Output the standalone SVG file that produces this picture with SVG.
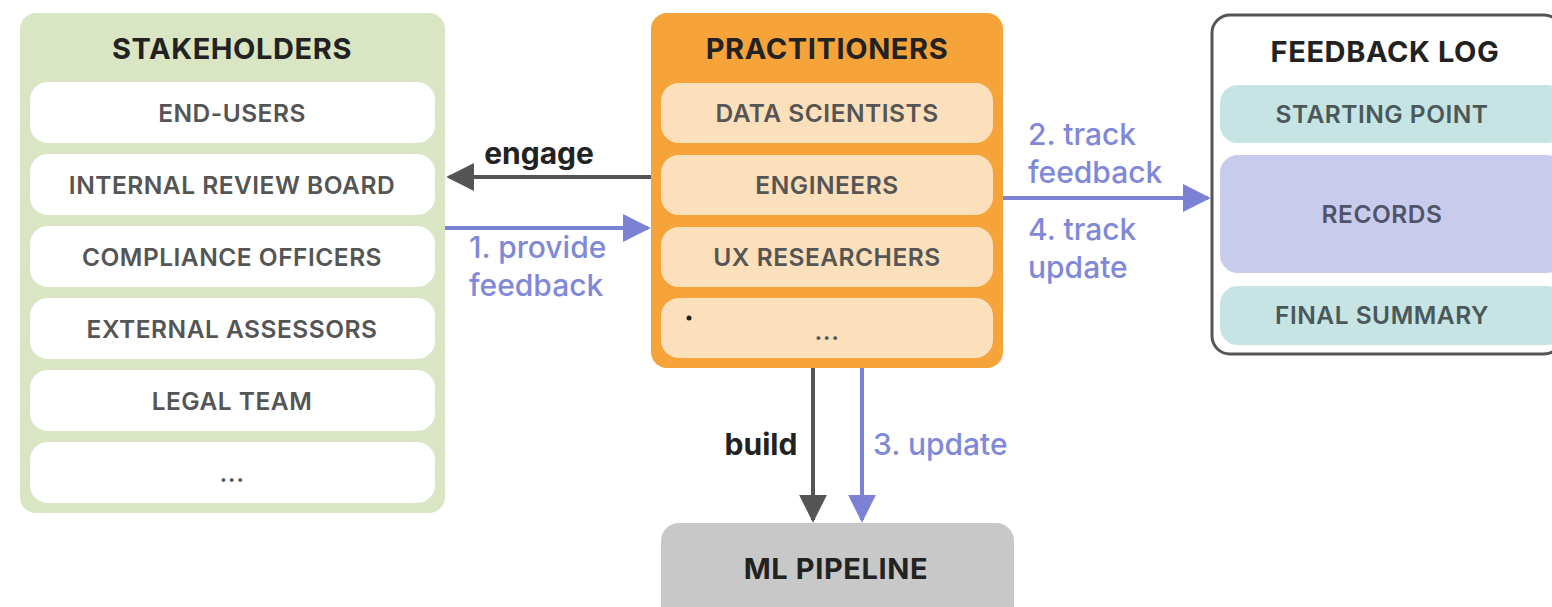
<svg xmlns="http://www.w3.org/2000/svg" width="1552" height="607" viewBox="0 0 1552 607">
<defs>
<style>
text{font-family:Inter,"Liberation Sans",sans-serif;text-anchor:middle}
.title{font-size:29px;font-weight:700;fill:#222;letter-spacing:0.6px}
.item{font-size:24.5px;font-weight:600;fill:#555;letter-spacing:0.5px}
.teal{fill:#4b5859}
.lav{fill:#50546a}
.lbl{font-size:30px;font-weight:700;fill:#222}
.plbl{font-size:30px;font-weight:500;fill:#8088d8;text-anchor:start}
.dark{stroke:#555;stroke-width:4;fill:none}
.purp{stroke:#7b82d6;stroke-width:4;fill:none}
</style>
<marker id="ad" viewBox="0 0 10 10" refX="9" refY="5" markerWidth="7" markerHeight="7" markerUnits="strokeWidth" orient="auto"><path d="M0,0 L10,5 L0,10 Z" fill="#555"/></marker>
<marker id="ap" viewBox="0 0 10 10" refX="9" refY="5" markerWidth="7" markerHeight="7" markerUnits="strokeWidth" orient="auto"><path d="M0,0 L10,5 L0,10 Z" fill="#7b82d6"/></marker>
</defs>
<rect width="1552" height="607" fill="#fff"/>

<g id="stakeholders">
<rect x="20" y="13" width="425" height="500" rx="16" fill="#d9e5c3"/>
<text class="title" x="232" y="59">STAKEHOLDERS</text>
<rect x="30" y="82" width="405" height="61" rx="18" fill="#fff"/>
<text class="item" x="232" y="122">END-USERS</text>
<rect x="30" y="154" width="405" height="61" rx="18" fill="#fff"/>
<text class="item" x="232" y="194">INTERNAL REVIEW BOARD</text>
<rect x="30" y="226" width="405" height="61" rx="18" fill="#fff"/>
<text class="item" x="232" y="266">COMPLIANCE OFFICERS</text>
<rect x="30" y="298" width="405" height="61" rx="18" fill="#fff"/>
<text class="item" x="232" y="338">EXTERNAL ASSESSORS</text>
<rect x="30" y="370" width="405" height="61" rx="18" fill="#fff"/>
<text class="item" x="232" y="410">LEGAL TEAM</text>
<rect x="30" y="442" width="405" height="61" rx="18" fill="#fff"/>
<text class="item" x="232" y="482">...</text>
</g>

<g id="practitioners">
<rect x="651" y="13" width="352" height="355" rx="16" fill="#f6a43a"/>
<text class="title" x="827" y="59">PRACTITIONERS</text>
<rect x="661" y="83" width="332" height="60" rx="18" fill="#fce0bb"/>
<text class="item" x="827" y="122">DATA SCIENTISTS</text>
<rect x="661" y="155" width="332" height="60" rx="18" fill="#fce0bb"/>
<text class="item" x="827" y="194">ENGINEERS</text>
<rect x="661" y="227" width="332" height="60" rx="18" fill="#fce0bb"/>
<text class="item" x="827" y="266">UX RESEARCHERS</text>
<rect x="661" y="298" width="332" height="60" rx="18" fill="#fce0bb"/>
<circle cx="689" cy="318" r="2.5" fill="#222"/>
<text class="item" x="827" y="340">...</text>
</g>

<g id="feedback-log">
<rect x="1212" y="15" width="350" height="339" rx="18" fill="#fff" stroke="#555" stroke-width="3"/>
<text class="title" x="1385" y="62">FEEDBACK LOG</text>
<rect x="1220" y="85" width="345" height="58" rx="18" fill="#c5e4e3"/>
<text class="item teal" x="1382" y="123">STARTING POINT</text>
<rect x="1220" y="155" width="345" height="118" rx="18" fill="#c9cbec"/>
<text class="item lav" x="1382" y="223">RECORDS</text>
<rect x="1220" y="286" width="345" height="59" rx="18" fill="#c5e4e3"/>
<text class="item teal" x="1382" y="324">FINAL SUMMARY</text>
</g>

<g id="ml-pipeline">
<rect x="661" y="523" width="353" height="110" rx="18" fill="#c8c8c8"/>
<text class="title" x="836" y="579">ML PIPELINE</text>
</g>

<g id="connectors">
<line class="dark" x1="651" y1="177" x2="449" y2="177" marker-end="url(#ad)"/>
<text class="lbl" x="539" y="164">engage</text>
<line class="purp" x1="445" y1="228" x2="648" y2="228" marker-end="url(#ap)"/>
<text class="plbl" x="469" y="258">1. provide</text>
<text class="plbl" x="469" y="296">feedback</text>
<line class="purp" x1="1003" y1="198" x2="1208" y2="198" marker-end="url(#ap)"/>
<text class="plbl" x="1028" y="145">2. track</text>
<text class="plbl" x="1028" y="183">feedback</text>
<text class="plbl" x="1028" y="240">4. track</text>
<text class="plbl" x="1028" y="278">update</text>
<line class="dark" x1="813" y1="368" x2="813" y2="520" marker-end="url(#ad)"/>
<text class="lbl" x="761" y="455">build</text>
<line class="purp" x1="862" y1="368" x2="862" y2="520" marker-end="url(#ap)"/>
<text class="plbl" x="873" y="455">3. update</text>
</g>
</svg>
